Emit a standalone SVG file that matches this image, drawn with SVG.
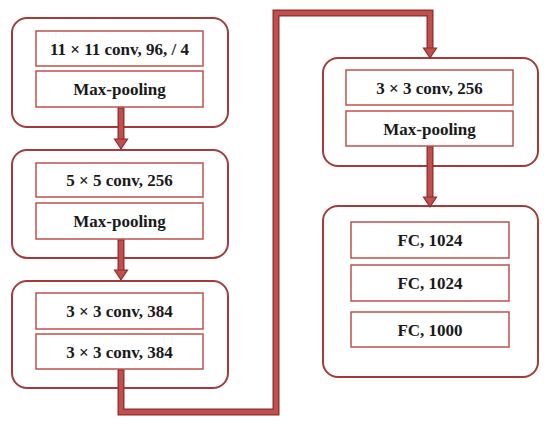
<svg xmlns="http://www.w3.org/2000/svg" width="550" height="427" viewBox="0 0 550 427">
<defs>
<style>
.outer{fill:#fff;stroke:#a23b3a;stroke-width:2}
.inner{fill:#fff;stroke:#c0504d;stroke-width:1.5}
.t{font-family:"Liberation Serif",serif;font-weight:bold;font-size:17px;fill:#1a1a1a;text-anchor:middle}
.cw{fill:none;stroke:#8c2e2c;stroke-width:7;stroke-linejoin:miter;stroke-linecap:butt}
.cf{fill:none;stroke:#c0504d;stroke-width:4.5;stroke-linejoin:miter;stroke-linecap:butt}
.ah{fill:#c0504d;stroke:#8c2e2c;stroke-width:1.2;stroke-linejoin:miter}
</style>
</defs>
<rect width="550" height="427" fill="#fff"/>
<g id="block1">
<rect class="outer" x="12" y="18" width="216" height="109" rx="15"/>
<rect class="inner" x="36" y="31" width="167" height="35"/>
<text class="t" x="119.5" y="54.5">11 × 11 conv, 96, / 4</text>
<rect class="inner" x="36" y="71" width="167" height="36"/>
<text class="t" x="119.5" y="94.5">Max-pooling</text>
</g>
<g id="block2">
<rect class="outer" x="12" y="150" width="216" height="108" rx="15"/>
<rect class="inner" x="36" y="163" width="167" height="34"/>
<text class="t" x="119.5" y="185.5">5 × 5 conv, 256</text>
<rect class="inner" x="36" y="203" width="167" height="36"/>
<text class="t" x="119.5" y="226.5">Max-pooling</text>
</g>
<g id="block3">
<rect class="outer" x="12" y="281" width="216" height="107" rx="15"/>
<rect class="inner" x="36" y="293" width="167" height="36"/>
<text class="t" x="119.5" y="316.5">3 × 3 conv, 384</text>
<rect class="inner" x="36" y="334" width="167" height="35"/>
<text class="t" x="119.5" y="357.5">3 × 3 conv, 384</text>
</g>
<g id="block4">
<rect class="outer" x="323" y="58" width="215" height="108" rx="15"/>
<rect class="inner" x="346" y="70" width="167" height="35"/>
<text class="t" x="429.5" y="93.5">3 × 3 conv, 256</text>
<rect class="inner" x="346" y="111" width="167" height="35"/>
<text class="t" x="429.5" y="134.5">Max-pooling</text>
</g>
<g id="block5">
<rect class="outer" x="323" y="206" width="215" height="171" rx="15"/>
<rect class="inner" x="351" y="222" width="158" height="36"/>
<text class="t" x="430" y="245.5">FC, 1024</text>
<rect class="inner" x="351" y="265" width="158" height="36"/>
<text class="t" x="430" y="288.5">FC, 1024</text>
<rect class="inner" x="351" y="312" width="158" height="35"/>
<text class="t" x="430" y="335.5">FC, 1000</text>
</g>
<g id="connectors">
<path class="cw" d="M121 107.5 V140"/>
<path class="cf" d="M121 108.5 V141"/>
<polygon class="ah" points="114.5,139 127.5,139 121,149"/>
<path class="cw" d="M121 239.5 V271"/>
<path class="cf" d="M121 240.5 V272"/>
<polygon class="ah" points="114.5,270 127.5,270 121,280"/>
<path class="cw" d="M121 369.5 V412 H276 V13 H430 V49"/>
<path class="cf" d="M121 370.5 V412 H276 V13 H430 V50"/>
<polygon class="ah" points="423.5,48 436.5,48 430,58"/>
<path class="cw" d="M430 146.5 V198"/>
<path class="cf" d="M430 147.5 V199"/>
<polygon class="ah" points="423.5,197 436.5,197 430,207"/>
</g>
</svg>
